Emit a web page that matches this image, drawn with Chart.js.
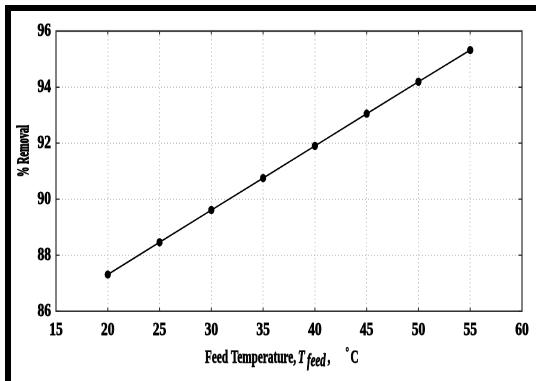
<!DOCTYPE html>
<html><head><meta charset="utf-8">
<script src="https://cdn.jsdelivr.net/npm/chart.js@4.4.1/dist/chart.umd.min.js"></script>
<style>
html,body{margin:0;padding:0;background:#fff;width:536px;height:381px;overflow:hidden;}
#wrap{position:absolute;left:0;top:0;width:536px;height:282px;transform:scaleY(1.351);transform-origin:0 0;}
#frame{position:absolute;left:5px;top:5px;right:0;bottom:0;border-top:6px solid #000;border-left:6px solid #000;pointer-events:none;}
</style></head><body>
<div id="wrap"><canvas id="c" width="536" height="282"></canvas></div>
<div id="frame"></div>
<script>
// ---- data ----
const temperatures = [20, 25, 30, 35, 40, 45, 50, 55];
const removal = [87.31, 88.46, 89.61, 90.75, 91.90, 93.05, 94.19, 95.32];
const xTicks = [15, 20, 25, 30, 35, 40, 45, 50, 55, 60];
const yTicks = [86, 88, 90, 92, 94, 96];
const yTitle = '% Removal';
const xTitleParts = ['Feed Temperature,', 'T', 'feed', ',', '\u00B0', 'C'];

const S = 1.351; // vertical stretch of the reference picture
const FAM = '"Liberation Serif","Times New Roman",serif';

function heavyText(ctx, txt, x, y, w) {
  ctx.lineWidth = w;
  ctx.strokeStyle = '#000';
  ctx.lineJoin = 'round';
  ctx.strokeText(txt, x, y);
  ctx.fillText(txt, x, y);
}

const boxPlugin = {
  id: 'box',
  afterDraw(chart) {
    const ctx = chart.ctx, a = chart.chartArea;
    const xs = chart.scales.x, ys = chart.scales.y;
    ctx.save();
    ctx.strokeStyle = '#2e2e2e';
    ctx.lineWidth = 1.2;
    ctx.strokeRect(a.left, a.top, a.right - a.left, a.bottom - a.top);
    ctx.lineWidth = 1;
    ctx.beginPath();
    xTicks.forEach(v => {
      const p = xs.getPixelForValue(v);
      ctx.moveTo(p, a.bottom); ctx.lineTo(p, a.bottom - 2.6);
      ctx.moveTo(p, a.top); ctx.lineTo(p, a.top + 2.6);
    });
    yTicks.forEach(v => {
      const p = ys.getPixelForValue(v);
      ctx.moveTo(a.left, p); ctx.lineTo(a.left + 3.5, p);
      ctx.moveTo(a.right, p); ctx.lineTo(a.right - 3.5, p);
    });
    ctx.stroke();
    ctx.restore();

    // y title (rotated)
    ctx.save();
    ctx.fillStyle = '#000';
    ctx.font = 'bold 17px ' + FAM;
    const wy = ctx.measureText(yTitle).width;
    ctx.translate(24, 151 / S);
    ctx.rotate(-Math.PI / 2);
    ctx.scale(38.5 / wy, 1);
    ctx.textAlign = 'center';
    ctx.textBaseline = 'middle';
    heavyText(ctx, yTitle, 0, 0, 0.9);
    ctx.restore();

    // x title
    ctx.save();
    ctx.fillStyle = '#000';
    ctx.textBaseline = 'alphabetic';
    const main = 'bold 14px ' + FAM;
    ctx.font = main;
    const sx = 91 / ctx.measureText(xTitleParts[0]).width;
    const put = (txt, font, x, yRef) => {
      ctx.save(); ctx.font = font; ctx.translate(x, yRef / S); ctx.scale(sx, 1);
      heavyText(ctx, txt, 0, 0, 0.5); ctx.restore();
    };
    put(xTitleParts[0], main, 205, 362.5);
    put(xTitleParts[1], 'italic bold 14px ' + FAM, 298, 362.5);
    put(xTitleParts[2], 'italic bold 13.5px ' + FAM, 307, 366);
    put(xTitleParts[3], main, 327.5, 362.5);
    put(xTitleParts[4], 'bold 11px ' + FAM, 345.5, 357);
    put(xTitleParts[5], main, 350.5, 362.5);
    ctx.restore();
  }
};

const tickFont = { family: FAM, size: 13.5, weight: 'bold' };

new Chart(document.getElementById('c'), {
  type: 'line',
  data: {
    datasets: [{
      data: temperatures.map((t, i) => ({ x: t, y: removal[i] })),
      borderColor: '#000',
      borderWidth: 1.2,
      pointRadius: 3.1,
      pointBackgroundColor: '#000',
      pointBorderColor: '#000',
      pointBorderWidth: 0,
      tension: 0,
      fill: false
    }]
  },
  options: {
    responsive: false,
    animation: false,
    devicePixelRatio: 2,
    layout: { padding: { top: 22.96, right: 14, left: 0, bottom: 0 } },
    plugins: { legend: { display: false }, tooltip: { enabled: false }, title: { display: false } },
    scales: {
      x: {
        type: 'linear', min: 15, max: 60,
        afterBuildTicks: s => { s.ticks = xTicks.map(v => ({ value: v })); },
        afterFit: s => { s.height = 282 - 230.37; },
        ticks: { font: tickFont, color: '#000', padding: 6, maxRotation: 0, autoSkip: false, textStrokeColor: '#000', textStrokeWidth: 0.5 },
        grid: { color: '#c8c8c8', lineWidth: 1, drawTicks: false },
        border: { display: false, dash: [1, 2] }
      },
      y: {
        type: 'linear', min: 86, max: 96,
        afterBuildTicks: s => { s.ticks = yTicks.map(v => ({ value: v })); },
        afterFit: s => { s.width = 56; },
        ticks: { font: tickFont, color: '#000', padding: 5, autoSkip: false, textStrokeColor: '#000', textStrokeWidth: 0.5 },
        grid: { color: '#c8c8c8', lineWidth: 1, drawTicks: false },
        border: { display: false, dash: [1, 2] }
      }
    }
  },
  plugins: [boxPlugin]
});
</script>
</body></html>
